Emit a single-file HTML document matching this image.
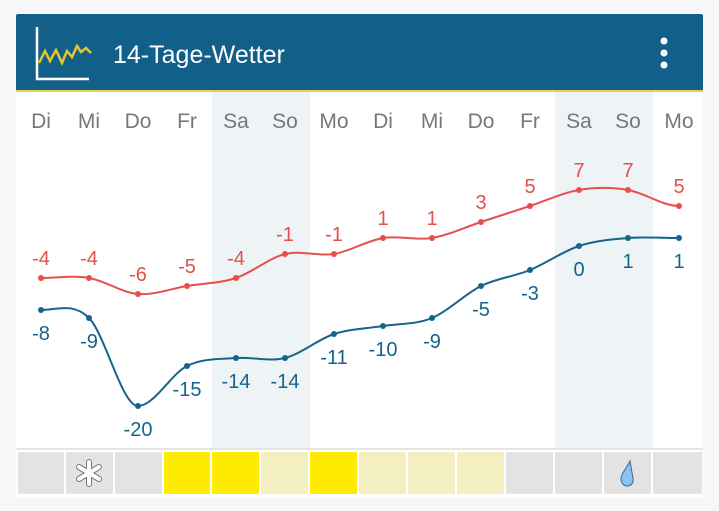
<!DOCTYPE html>
<html><head><meta charset="utf-8"><style>
body{margin:0;width:719px;height:506px;background:#f7f7f7;overflow:hidden;font-family:"Liberation Sans",sans-serif}
</style></head><body>
<svg width="719" height="506" viewBox="0 0 719 506" xmlns="http://www.w3.org/2000/svg" font-family="Liberation Sans, sans-serif">
<rect x="16" y="14" width="687" height="484" fill="#fff" rx="2"/>
<rect x="16" y="14" width="687" height="77" fill="#125f8a" rx="2"/>
<rect x="16" y="90" width="687" height="2" fill="#e8d24a"/>
<path d="M37 27 V79 H89" stroke="#fff" stroke-width="2.5" fill="none"/>
<path d="M39 63 L45 51 L50 61 L56 50 L62 63 L67 51 L72 57 L77 46 L81 52 L86 48 L91 53" stroke="#e5c52c" stroke-width="2.5" fill="none"/>
<text x="113" y="63" font-size="25" fill="#fff">14-Tage-Wetter</text>
<circle cx="664" cy="41" r="3.5" fill="#fff"/><circle cx="664" cy="53" r="3.5" fill="#fff"/><circle cx="664" cy="65" r="3.5" fill="#fff"/>
<rect x="212" y="92" width="98" height="356" fill="#eef4f6"/>
<rect x="555" y="92" width="98" height="356" fill="#eef4f6"/>
<g font-size="21" fill="#777" text-anchor="middle">
<text x="41" y="128">Di</text><text x="89" y="128">Mi</text><text x="138" y="128">Do</text><text x="187" y="128">Fr</text><text x="236" y="128">Sa</text><text x="285" y="128">So</text><text x="334" y="128">Mo</text><text x="383" y="128">Di</text><text x="432" y="128">Mi</text><text x="481" y="128">Do</text><text x="530" y="128">Fr</text><text x="579" y="128">Sa</text><text x="628" y="128">So</text><text x="679" y="128">Mo</text>
</g>
<path d="M41 278 C57 278 73 275.3 89 278 C105 280.7 122 292.7 138 294 C154 295.3 171 288.7 187 286 C203 283.3 220 283.3 236 278 C252 272.7 269 258 285 254 C301 250 318 256.7 334 254 C350 251.3 367 240.7 383 238 C399 235.3 416 240.7 432 238 C448 235.3 465 227.3 481 222 C497 216.7 514 211.3 530 206 C546 200.7 563 192.7 579 190 C595 187.3 612 187.3 628 190 C644 192.7 663 206 679 206" stroke="#e5504a" stroke-width="2" fill="none"/>
<path d="M41 310 C57 310 73 302 89 318 C105 334 122 406 138 406 C154 406 171 374 187 366 C203 358 220 359.3 236 358 C252 356.7 269 362 285 358 C301 354 318 339.3 334 334 C350 328.7 367 328.7 383 326 C399 323.3 416 324.7 432 318 C448 311.3 465 294 481 286 C497 278 514 276.7 530 270 C546 263.3 563 251.3 579 246 C595 240.7 612 239.3 628 238 C644 236.7 663 238 679 238" stroke="#14648e" stroke-width="2" fill="none"/>
<g fill="#e5504a"><circle cx="41" cy="278" r="3"/><circle cx="89" cy="278" r="3"/><circle cx="138" cy="294" r="3"/><circle cx="187" cy="286" r="3"/><circle cx="236" cy="278" r="3"/><circle cx="285" cy="254" r="3"/><circle cx="334" cy="254" r="3"/><circle cx="383" cy="238" r="3"/><circle cx="432" cy="238" r="3"/><circle cx="481" cy="222" r="3"/><circle cx="530" cy="206" r="3"/><circle cx="579" cy="190" r="3"/><circle cx="628" cy="190" r="3"/><circle cx="679" cy="206" r="3"/></g>
<g fill="#14648e"><circle cx="41" cy="310" r="3"/><circle cx="89" cy="318" r="3"/><circle cx="138" cy="406" r="3"/><circle cx="187" cy="366" r="3"/><circle cx="236" cy="358" r="3"/><circle cx="285" cy="358" r="3"/><circle cx="334" cy="334" r="3"/><circle cx="383" cy="326" r="3"/><circle cx="432" cy="318" r="3"/><circle cx="481" cy="286" r="3"/><circle cx="530" cy="270" r="3"/><circle cx="579" cy="246" r="3"/><circle cx="628" cy="238" r="3"/><circle cx="679" cy="238" r="3"/></g>
<g font-size="20" fill="#e5504a" text-anchor="middle">
<text x="41" y="265">-4</text><text x="89" y="265">-4</text><text x="138" y="281">-6</text><text x="187" y="273">-5</text><text x="236" y="265">-4</text><text x="285" y="241">-1</text><text x="334" y="241">-1</text><text x="383" y="225">1</text><text x="432" y="225">1</text><text x="481" y="209">3</text><text x="530" y="193">5</text><text x="579" y="177">7</text><text x="628" y="177">7</text><text x="679" y="193">5</text>
</g>
<g font-size="20" fill="#14648e" text-anchor="middle">
<text x="41" y="340">-8</text><text x="89" y="348">-9</text><text x="138" y="436">-20</text><text x="187" y="396">-15</text><text x="236" y="388">-14</text><text x="285" y="388">-14</text><text x="334" y="364">-11</text><text x="383" y="356">-10</text><text x="432" y="348">-9</text><text x="481" y="316">-5</text><text x="530" y="300">-3</text><text x="579" y="276">0</text><text x="628" y="268">1</text><text x="679" y="268">1</text>
</g>
<rect x="16" y="448" width="687" height="2" fill="#e6e6e6"/>
<g>
<rect x="18" y="452" width="46" height="42" fill="#e3e3e3"/>
<rect x="66" y="452" width="47" height="42" fill="#e3e3e3"/>
<rect x="115" y="452" width="47" height="42" fill="#e3e3e3"/>
<rect x="164" y="452" width="46" height="42" fill="#ffeb00"/>
<rect x="212" y="452" width="47" height="42" fill="#ffeb00"/>
<rect x="261" y="452" width="47" height="42" fill="#f3efc0"/>
<rect x="310" y="452" width="47" height="42" fill="#ffeb00"/>
<rect x="359" y="452" width="47" height="42" fill="#f3efc0"/>
<rect x="408" y="452" width="47" height="42" fill="#f3efc0"/>
<rect x="457" y="452" width="47" height="42" fill="#f3efc0"/>
<rect x="506" y="452" width="47" height="42" fill="#e3e3e3"/>
<rect x="555" y="452" width="47" height="42" fill="#e3e3e3"/>
<rect x="604" y="452" width="47" height="42" fill="#e3e3e3"/>
<rect x="653" y="452" width="49" height="42" fill="#e3e3e3"/>
</g>
<g stroke="#777" stroke-width="6" stroke-linecap="round"><path d="M89 462 V484 M79 467 L99 479 M79 479 L99 467"/></g>
<g stroke="#fff" stroke-width="4" stroke-linecap="round"><path d="M89 462 V484 M79 467 L99 479 M79 479 L99 467"/></g>
<path d="M630 461 C626 469 621 474 621 479 C621 483 624 486 627 486 C631 486 634 483 633 478 C632 473 631 467 630 461 Z" fill="#8ec3ee" stroke="#3a6a96" stroke-width="1"/>
</svg>
</body></html>
